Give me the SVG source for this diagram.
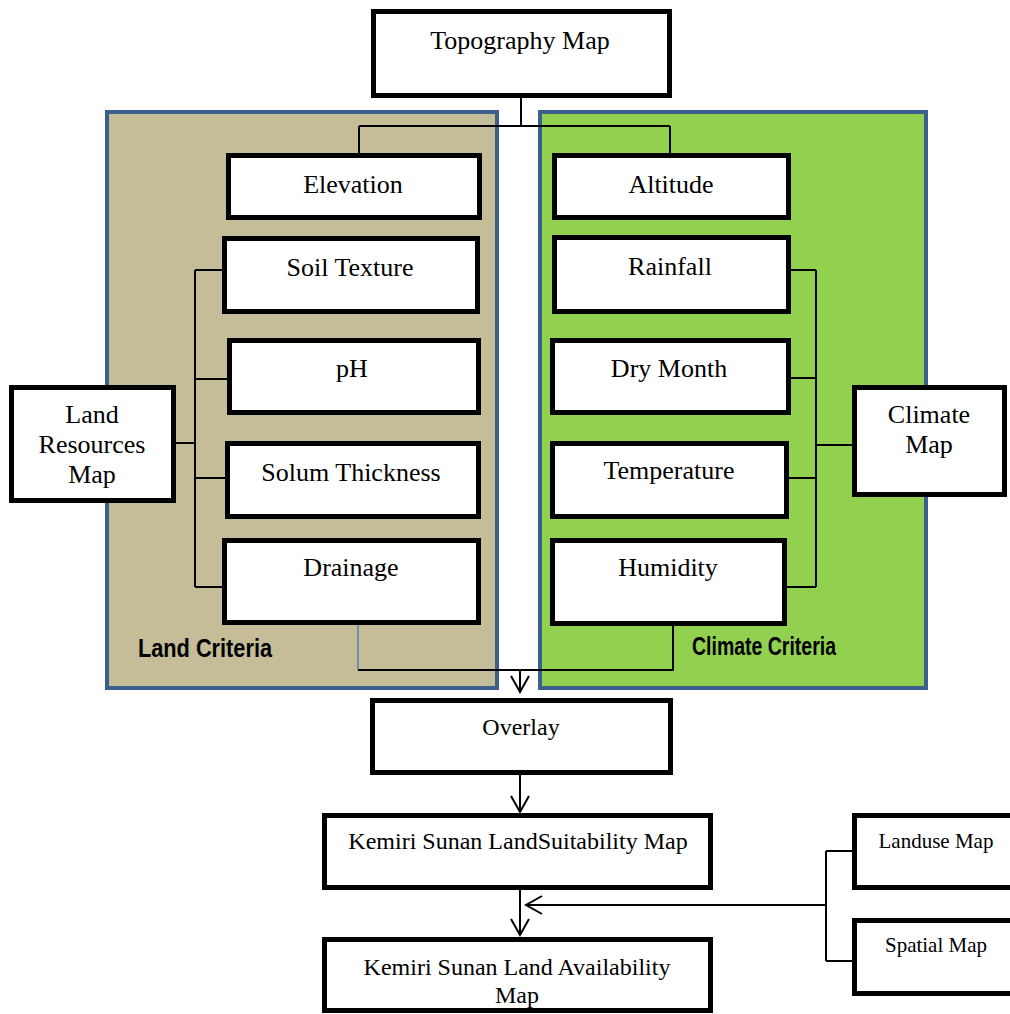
<svg xmlns="http://www.w3.org/2000/svg" width="1010" height="1014" viewBox="0 0 1010 1014">
<defs>
<style>
.box{fill:#fff;stroke:#000;stroke-width:5}
.t{font-family:"Liberation Serif","Times New Roman",serif;font-size:26px;fill:#000;text-anchor:middle}
.s{font-size:24px}
.xs{font-size:21px}
.lbl{font-family:"Liberation Sans",Arial,sans-serif;font-weight:bold;font-size:25px;fill:#000}
.c{fill:none;stroke:#000;stroke-width:2}
.panel{stroke:#3c5f8f;stroke-width:4}
</style>
<marker id="ah" markerUnits="userSpaceOnUse" markerWidth="20" markerHeight="24" viewBox="-18 -11 20 22" refX="0" refY="0" orient="auto">
<path d="M-16,-9 L0,0 L-16,9" fill="none" stroke="#000" stroke-width="2"/>
</marker>
</defs>
<rect width="1010" height="1014" fill="#fff"/>
<g id="land-criteria">
<rect class="panel" x="107" y="112" width="390" height="576" fill="#c4bd97"/>
<text class="lbl" x="138" y="657" textLength="134" lengthAdjust="spacingAndGlyphs">Land Criteria</text>
</g>
<g id="climate-criteria">
<rect class="panel" x="540" y="112" width="386" height="576" fill="#92d050"/>
<text class="lbl" x="692" y="655" textLength="144" lengthAdjust="spacingAndGlyphs">Climate Criteria</text>
</g>
<g id="connectors">
<path class="c" d="M521,98 V126 M359,126 H670 M359,126 V153 M670,126 V153"/>
<path class="c" d="M195,270 V587 M195,270 H222 M195,379 H227 M195,478 H225 M195,587 H222 M176,443 H195"/>
<path class="c" d="M816,270 V587 M791,270 H816 M791,378 H816 M789,478 H816 M787,587 H816 M816,445 H852"/>
<path d="M358,625 V670" fill="none" stroke="#4f81bd" stroke-width="1.5"/>
<path class="c" d="M358,670 H673 V626"/>
<path class="c" d="M520,670 V692" marker-end="url(#ah)"/>
<path class="c" d="M520,775 V812" marker-end="url(#ah)"/>
<path class="c" d="M520,890 V935" marker-end="url(#ah)"/>
<path class="c" d="M826,905 H526" marker-end="url(#ah)"/>
<path class="c" d="M826,851 V961 M826,851 H852 M826,961 H852"/>
</g>
<g id="topography"><rect class="box" x="373.5" y="11.5" width="296" height="84"/><text class="t" x="520" y="49">Topography Map</text></g>
<g id="elevation"><rect class="box" x="228.5" y="155.5" width="251" height="62"/><text class="t" x="353" y="193">Elevation</text></g>
<g id="altitude"><rect class="box" x="554.5" y="155.5" width="234" height="62"/><text class="t" x="671" y="193">Altitude</text></g>
<g id="soil-texture"><rect class="box" x="224.5" y="238.5" width="253" height="73"/><text class="t" x="350" y="276">Soil Texture</text></g>
<g id="ph"><rect class="box" x="229.5" y="340.5" width="249" height="72"/><text class="t" x="352" y="377">pH</text></g>
<g id="solum-thickness"><rect class="box" x="227.5" y="443.5" width="251" height="73"/><text class="t" x="351" y="481">Solum Thickness</text></g>
<g id="drainage"><rect class="box" x="224.5" y="540.5" width="254" height="82"/><text class="t" x="351" y="576">Drainage</text></g>
<g id="rainfall"><rect class="box" x="554.5" y="237.5" width="234" height="74"/><text class="t" x="670" y="275">Rainfall</text></g>
<g id="dry-month"><rect class="box" x="552.5" y="340.5" width="236" height="72"/><text class="t" x="669" y="377">Dry Month</text></g>
<g id="temperature"><rect class="box" x="552.5" y="443.5" width="234" height="73"/><text class="t" x="669" y="479">Temperature</text></g>
<g id="humidity"><rect class="box" x="552.5" y="540.5" width="232" height="83"/><text class="t" x="668" y="576">Humidity</text></g>
<g id="land-resources-map"><rect class="box" x="11.5" y="387.5" width="162" height="113"/><text class="t" x="92" y="423">Land</text><text class="t" x="92" y="453">Resources</text><text class="t" x="92" y="483">Map</text></g>
<g id="climate-map"><rect class="box" x="854.5" y="387.5" width="150" height="107"/><text class="t" x="929" y="423">Climate</text><text class="t" x="929" y="453">Map</text></g>
<g id="overlay"><rect class="box" x="372.5" y="700.5" width="298" height="72"/><text class="t s" x="521" y="735">Overlay</text></g>
<g id="suitability"><rect class="box" x="324.5" y="815.5" width="386" height="72"/><text class="t s" x="518" y="849">Kemiri Sunan LandSuitability Map</text></g>
<g id="availability"><rect class="box" x="324.5" y="939.5" width="386" height="71"/><text class="t s" x="517" y="975">Kemiri Sunan Land Availability</text><text class="t s" x="517" y="1003">Map</text></g>
<g id="landuse"><rect class="box" x="854.5" y="815.5" width="170" height="72"/><text class="t xs" x="936" y="848">Landuse Map</text></g>
<g id="spatial"><rect class="box" x="854.5" y="920.5" width="170" height="73"/><text class="t xs" x="936" y="952">Spatial Map</text></g>
</svg>
